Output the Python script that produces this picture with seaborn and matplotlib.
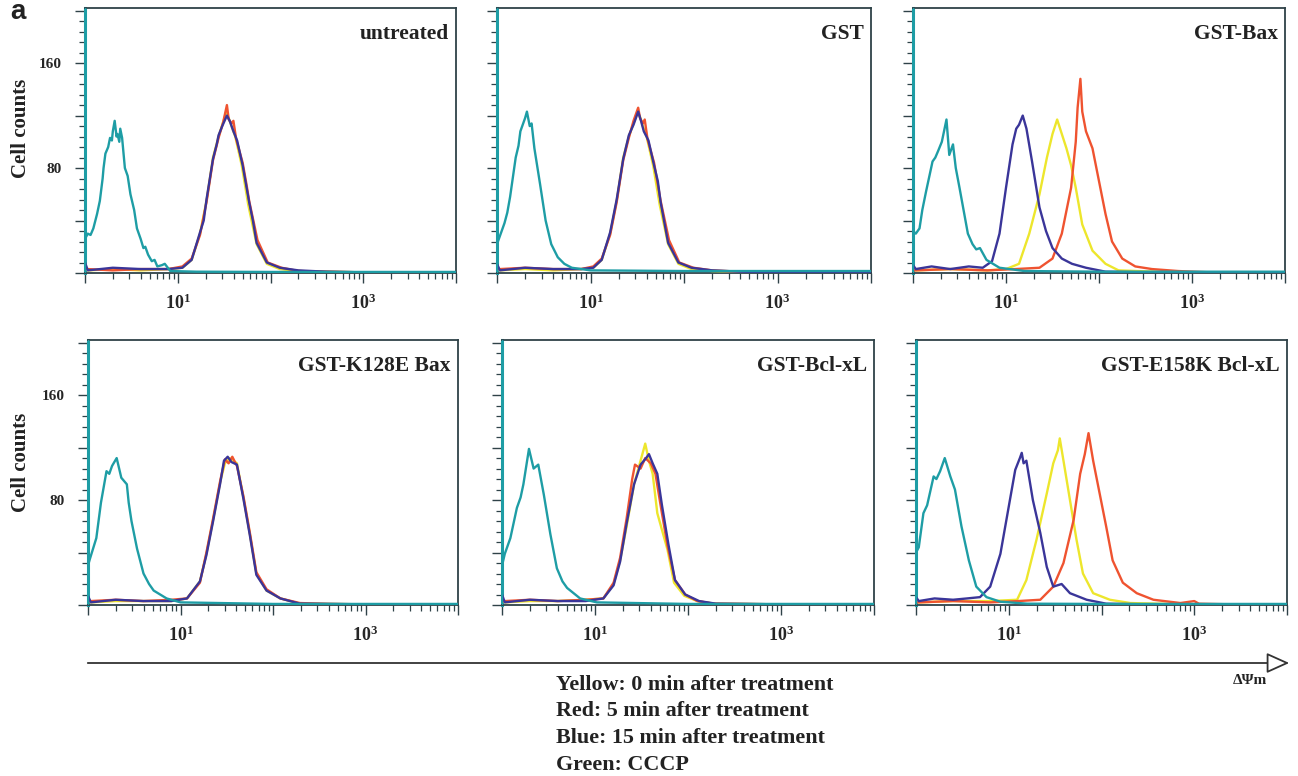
import numpy as np
import pandas as pd
import matplotlib
matplotlib.use("Agg")
import matplotlib.pyplot as plt
import seaborn as sns
from matplotlib.ticker import LogLocator, MultipleLocator, NullFormatter
from matplotlib.patches import FancyArrowPatch

# ---------------- data (x = log10 fluorescence, y = cell counts) ----------------
panel_titles = ["untreated", "GST", "GST-Bax", "GST-K128E Bax", "GST-Bcl-xL", "GST-E158K Bcl-xL"]
series_names = ["Yellow", "Red", "Blue", "Green"]
xtick_values = [1, 10, 100, 1000, 10000]
xtick_labels = ["", r"$\mathbf{10^{1}}$", "", r"$\mathbf{10^{3}}$", ""]
ytick_values = [0, 40, 80, 120, 160, 200]
ytick_labels = ["", "", "80", "", "160", ""]
legend_lines = ["Yellow: 0 min after treatment", "Red: 5 min after treatment",
                "Blue: 15 min after treatment", "Green: CCCP"]

# untreated
p1_green_x = [0.0, 0.0, 0.0, 0.03, 0.06, 0.09, 0.13, 0.16, 0.19, 0.20, 0.22, 0.25, 0.27, 0.29, 0.30, 0.32, 0.34, 0.35, 0.37, 0.38, 0.40, 0.43, 0.46, 0.49, 0.53, 0.56, 0.60, 0.63, 0.65, 0.68, 0.72, 0.75, 0.78, 0.83, 0.86, 0.92, 1.2, 2.0, 3.0, 4.0]
p1_green_y = [0, 250, 26, 30, 29, 34, 45, 55, 72, 80, 91, 96, 103, 101, 108, 116, 104, 106, 100, 110, 103, 80, 74, 60, 48, 34, 26, 19, 20, 14, 9, 10, 5, 6, 7, 1.5, 1, 0.8, 0.8, 0.8]
p1_yellow_x = [0.0, 0.03, 0.3, 0.6, 0.9, 1.05, 1.15, 1.24, 1.31, 1.38, 1.44, 1.48, 1.52, 1.55, 1.58, 1.62, 1.69, 1.76, 1.85, 1.96, 2.10, 2.3, 2.6, 3.0, 4.0]
p1_yellow_y = [6, 2, 3, 2, 3, 4, 10, 30, 55, 88, 104, 113, 122, 118, 112, 104, 82, 52, 22, 7, 3, 1.5, 1, 0.5, 0.5]
p1_red_x = [0.0, 0.03, 0.3, 0.6, 0.9, 1.05, 1.15, 1.24, 1.31, 1.38, 1.44, 1.49, 1.53, 1.55, 1.58, 1.60, 1.63, 1.70, 1.74, 1.77, 1.86, 1.97, 2.12, 2.3, 2.6, 3.0, 4.0]
p1_red_y = [4, 3, 2, 3, 3, 5, 11, 29, 54, 86, 103, 115, 128, 117, 114, 116, 102, 84, 68, 55, 25, 8, 4, 1.5, 1, 0.5, 0.5]
p1_blue_x = [0.0, 0.03, 0.3, 0.6, 0.9, 1.05, 1.15, 1.24, 1.28, 1.31, 1.38, 1.42, 1.44, 1.48, 1.53, 1.56, 1.60, 1.64, 1.70, 1.77, 1.81, 1.85, 1.96, 2.10, 2.3, 2.6, 3.0, 4.0]
p1_blue_y = [8, 2, 4, 3, 3, 4, 10, 31, 40, 56, 87, 98, 105, 112, 120, 116, 108, 101, 82, 54, 40, 23, 8, 4, 2, 1, 0.5, 0.5]

# GST
p2_green_x = [0.0, 0.0, 0.0, 0.03, 0.08, 0.11, 0.14, 0.20, 0.23, 0.25, 0.30, 0.32, 0.35, 0.37, 0.40, 0.46, 0.52, 0.58, 0.65, 0.72, 0.80, 0.90, 1.0, 2.0, 3.0, 4.0]
p2_green_y = [0, 250, 22, 28, 38, 46, 58, 88, 97, 108, 118, 123, 112, 114, 95, 68, 40, 22, 12, 7, 4, 3, 2, 1.5, 1.5, 1.5]
p2_yellow_x = [0.0, 0.03, 0.3, 0.6, 0.9, 1.03, 1.12, 1.21, 1.28, 1.35, 1.41, 1.46, 1.50, 1.53, 1.56, 1.60, 1.67, 1.74, 1.83, 1.94, 2.08, 2.3, 2.6, 3.0, 4.0]
p2_yellow_y = [5, 2, 3, 2, 3, 4, 10, 30, 55, 88, 104, 114, 122, 119, 112, 104, 82, 52, 22, 7, 3, 1.5, 1, 0.5, 0.5]
p2_red_x = [0.0, 0.03, 0.3, 0.6, 0.9, 1.03, 1.12, 1.21, 1.28, 1.35, 1.41, 1.46, 1.51, 1.53, 1.56, 1.58, 1.61, 1.68, 1.75, 1.84, 1.95, 2.10, 2.3, 2.6, 3.0, 4.0]
p2_red_y = [4, 3, 4, 3, 3, 5, 11, 29, 54, 86, 103, 116, 126, 118, 114, 117, 102, 84, 55, 25, 8, 4, 2, 1, 0.5, 0.5]
p2_blue_x = [0.0, 0.03, 0.3, 0.6, 0.9, 1.03, 1.12, 1.21, 1.28, 1.35, 1.41, 1.46, 1.51, 1.54, 1.57, 1.62, 1.68, 1.72, 1.75, 1.83, 1.94, 2.08, 2.3, 2.6, 3.0, 4.0]
p2_blue_y = [7, 2, 4, 3, 3, 4, 10, 31, 56, 87, 105, 113, 123, 116, 108, 101, 82, 70, 54, 23, 8, 4, 2, 1, 0.5, 0.5]

# GST-Bax
p3_green_x = [0.0, 0.0, 0.0, 0.03, 0.07, 0.10, 0.14, 0.21, 0.24, 0.27, 0.31, 0.36, 0.39, 0.43, 0.46, 0.50, 0.59, 0.64, 0.68, 0.72, 0.79, 0.93, 1.2, 2.0, 3.0, 4.0]
p3_green_y = [0, 250, 32, 30, 34, 48, 62, 85, 88, 93, 100, 117, 90, 98, 80, 65, 30, 22, 18, 19, 10, 4, 1.5, 1, 1, 1]
p3_blue_x = [0.0, 0.03, 0.2, 0.4, 0.6, 0.75, 0.85, 0.93, 1.00, 1.07, 1.11, 1.14, 1.18, 1.22, 1.28, 1.36, 1.43, 1.50, 1.60, 1.71, 1.86, 2.07, 2.5, 3.0, 4.0]
p3_blue_y = [6, 3, 5, 3, 5, 4, 9, 30, 65, 98, 110, 113, 120, 110, 85, 50, 32, 19, 11, 7, 4, 1, 0.5, 0.5, 0.5]
p3_yellow_x = [0.0, 0.03, 0.4, 0.8, 1.0, 1.14, 1.25, 1.36, 1.44, 1.50, 1.55, 1.60, 1.65, 1.70, 1.75, 1.82, 1.93, 2.07, 2.21, 2.6, 3.0, 4.0]
p3_yellow_y = [3, 2, 3, 2, 3, 7, 30, 60, 88, 106, 117, 106, 95, 82, 65, 37, 17, 7, 2, 1, 0.5, 0.5]
p3_red_x = [0.0, 0.03, 0.4, 0.8, 1.1, 1.36, 1.50, 1.60, 1.70, 1.75, 1.77, 1.80, 1.82, 1.86, 1.93, 2.00, 2.07, 2.14, 2.25, 2.39, 2.57, 2.85, 3.2, 4.0]
p3_red_y = [2, 2, 3, 2, 3, 4, 11, 30, 65, 100, 126, 148, 123, 108, 95, 70, 45, 24, 11, 5, 3, 1.5, 0.5, 0.5]

# GST-K128E Bax
p4_green_x = [0.0, 0.0, 0.0, 0.02, 0.09, 0.14, 0.20, 0.23, 0.26, 0.31, 0.36, 0.42, 0.44, 0.47, 0.53, 0.60, 0.66, 0.71, 0.85, 1.0, 2.0, 3.0, 4.0]
p4_green_y = [0, 250, 30, 35, 51, 78, 102, 100, 106, 112, 97, 92, 78, 64, 43, 24, 16, 11, 5, 2, 0.8, 0.8, 0.8]
p4_yellow_x = [0.0, 0.03, 0.3, 0.6, 0.9, 1.07, 1.21, 1.28, 1.35, 1.43, 1.48, 1.53, 1.57, 1.61, 1.68, 1.75, 1.82, 1.93, 2.08, 2.29, 2.6, 3.0, 4.0]
p4_yellow_y = [5, 2, 3, 3, 3, 5, 18, 39, 64, 94, 108, 112, 110, 108, 82, 54, 24, 11, 5, 1, 0.8, 0.5, 0.5]
p4_red_x = [0.0, 0.03, 0.3, 0.6, 0.9, 1.07, 1.21, 1.28, 1.35, 1.43, 1.48, 1.52, 1.56, 1.61, 1.68, 1.75, 1.82, 1.93, 2.08, 2.29, 2.6, 3.0, 4.0]
p4_red_y = [4, 3, 4, 3, 4, 5, 17, 40, 65, 95, 111, 108, 113, 106, 83, 55, 25, 12, 5, 1.5, 0.8, 0.5, 0.5]
p4_blue_x = [0.0, 0.03, 0.3, 0.6, 0.9, 1.07, 1.21, 1.28, 1.35, 1.43, 1.47, 1.51, 1.55, 1.61, 1.68, 1.75, 1.82, 1.93, 2.08, 2.29, 2.6, 3.0, 4.0]
p4_blue_y = [7, 2, 4, 3, 3, 5, 18, 38, 63, 93, 110, 113, 109, 107, 81, 53, 23, 11, 5, 1, 0.8, 0.5, 0.5]

# GST-Bcl-xL
p5_green_x = [0.0, 0.0, 0.0, 0.03, 0.09, 0.16, 0.20, 0.23, 0.29, 0.34, 0.39, 0.45, 0.52, 0.59, 0.65, 0.70, 0.84, 1.02, 2.0, 3.0, 4.0]
p5_green_y = [0, 250, 30, 39, 51, 74, 82, 92, 119, 104, 107, 84, 54, 28, 18, 13, 5, 2, 0.8, 0.8, 0.8]
p5_yellow_x = [0.0, 0.03, 0.3, 0.6, 0.9, 1.09, 1.20, 1.27, 1.34, 1.42, 1.49, 1.54, 1.58, 1.62, 1.67, 1.78, 1.85, 1.96, 2.10, 2.28, 2.6, 3.0, 4.0]
p5_yellow_y = [4, 2, 3, 3, 4, 5, 16, 34, 60, 92, 110, 123, 110, 100, 70, 42, 17, 7, 3, 1, 0.8, 0.5, 0.5]
p5_red_x = [0.0, 0.03, 0.3, 0.6, 0.9, 1.09, 1.20, 1.27, 1.34, 1.40, 1.43, 1.49, 1.54, 1.60, 1.65, 1.71, 1.78, 1.86, 1.97, 2.10, 2.28, 2.6, 3.0, 4.0]
p5_red_y = [3, 3, 4, 3, 4, 5, 17, 36, 66, 96, 107, 104, 112, 108, 100, 74, 45, 19, 8, 3, 1, 0.8, 0.5, 0.5]
p5_blue_x = [0.0, 0.03, 0.3, 0.6, 0.9, 1.09, 1.20, 1.27, 1.34, 1.42, 1.49, 1.55, 1.58, 1.62, 1.67, 1.72, 1.79, 1.86, 1.97, 2.12, 2.30, 2.6, 3.0, 4.0]
p5_blue_y = [8, 2, 4, 3, 3, 5, 15, 33, 62, 92, 107, 112, 115, 108, 100, 76, 46, 19, 8, 3, 1, 0.8, 0.5, 0.5]

# GST-E158K Bcl-xL
p6_green_x = [0.0, 0.0, 0.0, 0.03, 0.08, 0.12, 0.19, 0.22, 0.26, 0.31, 0.37, 0.42, 0.49, 0.57, 0.65, 0.76, 0.91, 1.2, 2.0, 3.0, 4.0]
p6_green_y = [0, 250, 40, 44, 70, 76, 98, 96, 102, 112, 98, 88, 60, 34, 14, 6, 2.5, 1, 0.8, 0.8, 0.8]
p6_blue_x = [0.0, 0.03, 0.2, 0.4, 0.55, 0.69, 0.80, 0.91, 1.00, 1.07, 1.12, 1.14, 1.16, 1.19, 1.26, 1.34, 1.41, 1.48, 1.57, 1.66, 1.84, 2.05, 2.5, 3.0, 4.0]
p6_blue_y = [6, 3, 5, 4, 5, 6, 14, 39, 75, 103, 112, 116, 108, 110, 80, 55, 29, 14, 16, 9, 4, 1, 0.5, 0.5, 0.5]
p6_yellow_x = [0.0, 0.03, 0.4, 0.8, 1.09, 1.19, 1.30, 1.41, 1.48, 1.53, 1.55, 1.59, 1.66, 1.73, 1.80, 1.91, 2.09, 2.31, 2.6, 3.0, 4.0]
p6_yellow_y = [3, 2, 3, 3, 4, 19, 50, 85, 108, 118, 127, 110, 80, 50, 24, 9, 4, 1.5, 1, 0.5, 0.5]
p6_red_x = [0.0, 0.03, 0.4, 0.8, 1.1, 1.34, 1.48, 1.59, 1.70, 1.77, 1.82, 1.86, 1.91, 1.98, 2.05, 2.12, 2.23, 2.38, 2.56, 2.85, 3.00, 3.05, 3.4, 4.0]
p6_red_y = [2, 2, 3, 2, 3, 4, 14, 32, 65, 100, 115, 131, 110, 85, 60, 34, 17, 9, 4, 1.5, 3, 1, 0.5, 0.5]

# ---------------- assemble tidy table ----------------
panel_data = [
    {"Yellow": (p1_yellow_x, p1_yellow_y), "Red": (p1_red_x, p1_red_y), "Blue": (p1_blue_x, p1_blue_y), "Green": (p1_green_x, p1_green_y)},
    {"Yellow": (p2_yellow_x, p2_yellow_y), "Red": (p2_red_x, p2_red_y), "Blue": (p2_blue_x, p2_blue_y), "Green": (p2_green_x, p2_green_y)},
    {"Yellow": (p3_yellow_x, p3_yellow_y), "Red": (p3_red_x, p3_red_y), "Blue": (p3_blue_x, p3_blue_y), "Green": (p3_green_x, p3_green_y)},
    {"Yellow": (p4_yellow_x, p4_yellow_y), "Red": (p4_red_x, p4_red_y), "Blue": (p4_blue_x, p4_blue_y), "Green": (p4_green_x, p4_green_y)},
    {"Yellow": (p5_yellow_x, p5_yellow_y), "Red": (p5_red_x, p5_red_y), "Blue": (p5_blue_x, p5_blue_y), "Green": (p5_green_x, p5_green_y)},
    {"Yellow": (p6_yellow_x, p6_yellow_y), "Red": (p6_red_x, p6_red_y), "Blue": (p6_blue_x, p6_blue_y), "Green": (p6_green_x, p6_green_y)},
]

colors = {"Yellow": "#ede62c", "Red": "#ef5330", "Blue": "#3a3599", "Green": "#1e9da5"}
draw_order = ["Yellow", "Red", "Blue", "Green"]

# ---------------- styling ----------------
sns.set_theme(style="ticks")
plt.rcParams["font.family"] = ["Liberation Serif", "DejaVu Serif"]
plt.rcParams["mathtext.fontset"] = "custom"
plt.rcParams["mathtext.rm"] = "Liberation Serif"
plt.rcParams["mathtext.bf"] = "Liberation Serif:bold"

W, H = 1298, 776
fig = plt.figure(figsize=(W / 100, H / 100), dpi=100)
fig.patch.set_facecolor("white")

# pixel boxes (left, top, right, bottom)
boxes = [(85, 8, 456, 273), (497, 8, 871, 273), (913, 8, 1285, 273),
         (88, 340, 458, 605), (502, 340, 874, 605), (916, 340, 1287, 605)]
frame_color = "#2f4248"

for i, (l, t, r, b) in enumerate(boxes):
    ax = fig.add_axes([l / W, 1 - b / H, (r - l) / W, (b - t) / H])
    ax.set_facecolor("white")
    for sp in ax.spines.values():
        sp.set_visible(True)
        sp.set_color(frame_color)
        sp.set_linewidth(1.3)
        sp.set_zorder(1)
    # the CCCP trace saturates the first channel, tinting the left frame
    ax.spines["left"].set_color(colors["Green"])
    ax.spines["left"].set_linewidth(2.2)
    for name in draw_order:
        xs, ys = panel_data[i][name]
        df = pd.DataFrame({"intensity": np.power(10.0, xs), "count": ys})
        sns.lineplot(data=df, x="intensity", y="count", ax=ax, color=colors[name],
                     sort=False, estimator=None, linewidth=1.7, legend=False, zorder=3)
    ax.set_xscale("log")
    ax.set_xlim(1, 10000)
    ax.set_ylim(0, 202)
    ax.set_xticks(xtick_values, labels=xtick_labels)
    ax.xaxis.set_minor_locator(LogLocator(base=10, subs=np.arange(2, 10)))
    ax.xaxis.set_minor_formatter(NullFormatter())
    ax.set_yticks(ytick_values, labels=ytick_labels if i % 3 == 0 else [""] * len(ytick_values))
    ax.yaxis.set_minor_locator(MultipleLocator(8))
    ax.tick_params(axis="both", which="major", direction="out", length=7, width=1.0,
                   color=frame_color, labelsize=11, pad=10)
    ax.tick_params(axis="x", which="major", labelsize=13, pad=8)
    ax.tick_params(axis="both", which="minor", direction="out", length=4, width=0.9, color=frame_color)
    for lab in ax.get_yticklabels():
        lab.set_fontweight("bold")
    ax.set_xlabel("")
    ax.set_ylabel("")
    ax.text(1 - 7 / (r - l), 1 - 26 / (b - t), panel_titles[i], transform=ax.transAxes,
            ha="right", va="center", fontsize=15.5, fontweight="bold", color="#222222", zorder=5)

# y-axis labels
for yc in (128, 462):
    fig.text(21 / W, 1 - yc / H, "Cell counts", rotation=90, ha="center", va="center",
             fontsize=15, fontweight="bold", color="#222222")

# panel letter
fig.text(10 / W, 1 - 12 / H, "a", ha="left", va="center", fontsize=20, fontweight="bold",
         family="Liberation Sans", color="#222222")

# arrow for ΔΨm axis
arrow = FancyArrowPatch((85 / W, 1 - 663 / H), (1292 / W, 1 - 663 / H), transform=fig.transFigure,
                        arrowstyle="-|>,head_length=1.0,head_width=0.45", mutation_scale=14,
                        facecolor="white", edgecolor="#333333", linewidth=1.3)
fig.add_artist(arrow)
fig.text(1250 / W, 1 - 680 / H, "ΔΨm", ha="center", va="center", fontsize=11, fontweight="bold",
         color="#222222")

for k, line in enumerate(legend_lines):
    fig.text(556 / W, 1 - (685 + 26.5 * k) / H, line, ha="left", va="center", fontsize=15.8,
             fontweight="bold", color="#222222")

fig.savefig("out.png", dpi=100)
